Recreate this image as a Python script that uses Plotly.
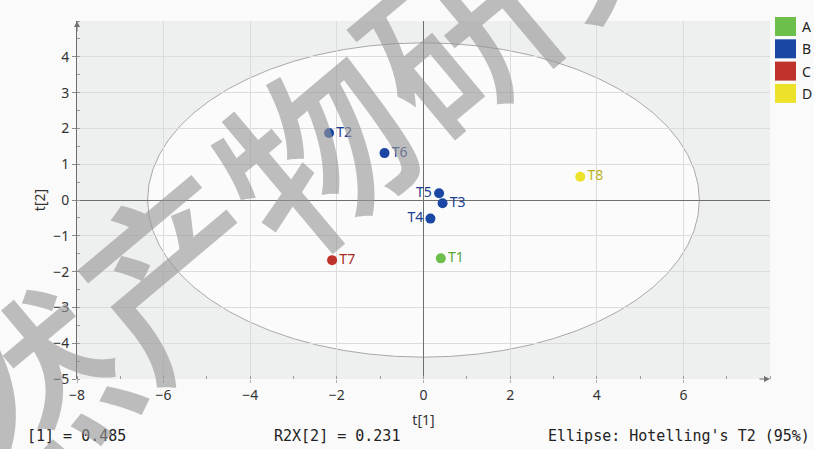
import numpy as np
import plotly.graph_objects as go

# PCA score plot: sample scores on the first two components
samples = ["T1", "T2", "T3", "T4", "T5", "T6", "T7", "T8"]
groups = ["A", "B", "B", "B", "B", "B", "C", "D"]
t1 = [0.40, -2.18, 0.44, 0.16, 0.36, -0.90, -2.11, 3.62]
t2 = [-1.63, 1.87, -0.09, -0.52, 0.19, 1.31, -1.68, 0.65]
label_side = ["right", "right", "right", "left", "left", "right", "right", "right"]

group_names = ["A", "B", "C", "D"]
group_colors = ["#6cbf4a", "#1a47a3", "#c0332a", "#ece22a"]
group_text_colors = ["#55a636", "#1a3f8f", "#a3291f", "#bdb31c"]

x_ticks = [-8, -6, -4, -2, 0, 2, 4, 6]
y_ticks = [-5, -4, -3, -2, -1, 0, 1, 2, 3, 4]

# Hotelling's T2 (95%) ellipse semi-axes
ell_a, ell_b = 6.37, 4.39

r2x = ["0.485", "0.231"]

# plot-area geometry in pixels
W, H = 814, 449
L, R, T, B = 77, 44, 21, 70
pw, ph = W - L - R, H - T - B


def px_x(px):
    return (px - L) / pw


def px_y(py):
    return (H - B - py) / ph


fig = go.Figure()

for gi, g in enumerate(group_names):
    idx = [i for i, gg in enumerate(groups) if gg == g]
    fig.add_trace(go.Scatter(
        x=[t1[i] for i in idx],
        y=[t2[i] for i in idx],
        text=[samples[i] for i in idx],
        mode="markers+text",
        textposition=["middle " + label_side[i] for i in idx],
        textfont=dict(family="Noto Sans", size=14, color=group_text_colors[gi]),
        marker=dict(size=10, color=group_colors[gi], line=dict(width=0)),
        showlegend=False,
        cliponaxis=False,
    ))

# ellipse drawn beneath the grid
fig.add_shape(type="circle", xref="x", yref="y",
              x0=-ell_a, x1=ell_a, y0=-ell_b, y1=ell_b,
              fillcolor="#fbfbfb", line=dict(color="#a8a8a8", width=1),
              layer="below")

# legend swatches
sw_top = 17
for gi, g in enumerate(group_names):
    y0 = sw_top + gi * 22.3
    fig.add_shape(type="rect", xref="paper", yref="paper",
                  x0=px_x(775), x1=px_x(796), y0=px_y(y0 + 19), y1=px_y(y0),
                  fillcolor=group_colors[gi], line=dict(width=0))
    fig.add_annotation(x=px_x(800), y=px_y(y0 + 9.5), xref="paper", yref="paper",
                       text=g, showarrow=False, xanchor="left", yanchor="middle",
                       font=dict(family="Noto Sans", size=14, color="#222222"))

# axis arrows
fig.add_annotation(x=-8, y=5, xref="x", yref="y", ax=0, ay=12, text="",
                   showarrow=True, arrowhead=2, arrowsize=1.2, arrowwidth=1,
                   arrowcolor="#707070")
fig.add_annotation(x=8, y=-5, xref="x", yref="y", ax=-12, ay=0, text="",
                   showarrow=True, arrowhead=2, arrowsize=1.2, arrowwidth=1,
                   arrowcolor="#707070")

mono = dict(family="DejaVu Sans Mono", size=15, color="#222222")
fig.add_annotation(x=px_x(25), y=px_y(436), xref="paper", yref="paper",
                   text="[1] = " + r2x[0], showarrow=False,
                   xanchor="left", yanchor="middle", font=mono)
fig.add_annotation(x=px_x(272), y=px_y(436), xref="paper", yref="paper",
                   text="R2X[2] = " + r2x[1], showarrow=False,
                   xanchor="left", yanchor="middle", font=mono)
fig.add_annotation(x=px_x(812), y=px_y(436), xref="paper", yref="paper",
                   text="Ellipse: Hotelling's T2 (95%)", showarrow=False,
                   xanchor="right", yanchor="middle", font=mono)

# watermark
fig.add_annotation(x=px_x(240), y=px_y(206), xref="paper", yref="paper",
                   text="天然产物研究", showarrow=False, textangle=-40,
                   xanchor="center", yanchor="middle",
                   font=dict(family="Noto Sans CJK SC", size=186, weight=500,
                             color="rgba(150,150,150,0.62)"))

axis_font = dict(family="Noto Sans", size=14, color="#333333")
fig.update_xaxes(
    range=[-8, 8], tickvals=x_ticks,
    showgrid=True, gridcolor="#dcdcdc", gridwidth=1,
    zeroline=True, zerolinecolor="#6e6e6e", zerolinewidth=1,
    showline=False,
    ticks="outside", ticklen=3, tickcolor="#b0b0b0",
    minor=dict(dtick=1, ticks="inside", ticklen=3, tickcolor="#9a9a9a", showgrid=False),
    tickfont=axis_font,
    title=dict(text="t[1]", font=axis_font, standoff=12),
)
fig.update_yaxes(
    range=[-5, 5], tickvals=y_ticks,
    showgrid=True, gridcolor="#dcdcdc", gridwidth=1,
    zeroline=True, zerolinecolor="#6e6e6e", zerolinewidth=1,
    showline=True, linecolor="#6e6e6e", linewidth=1,
    ticks="outside", ticklen=4, tickcolor="#8a8a8a",
    minor=dict(dtick=0.5, ticks="inside", ticklen=3, tickcolor="#9a9a9a", showgrid=False),
    tickfont=axis_font,
    title=dict(text="t[2]", font=axis_font, standoff=4),
)

fig.update_layout(
    width=W, height=H,
    margin=dict(l=L, r=R, t=T, b=B),
    paper_bgcolor="#fafafa",
    plot_bgcolor="#eeefef",
    showlegend=False,
)

fig.write_html("out.html")
